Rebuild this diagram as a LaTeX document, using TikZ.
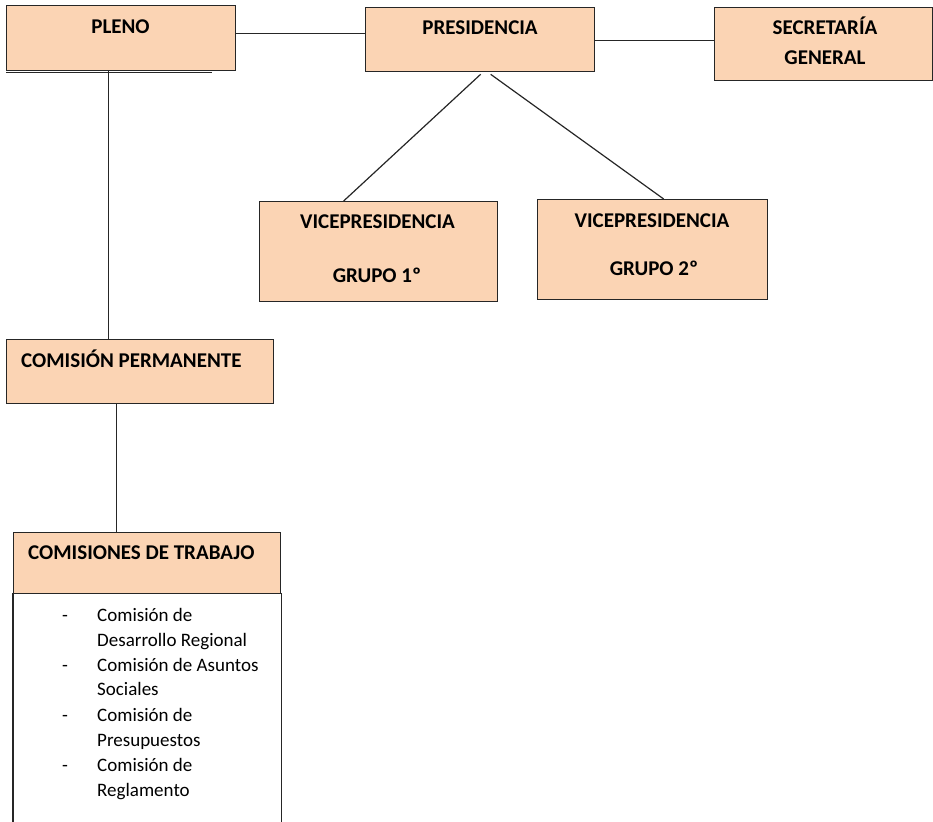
\documentclass[tikz,border=0pt]{standalone}
\usepackage{fontspec}
\setmainfont{Carlito}
\definecolor{peach}{HTML}{FBD4B4}
\tikzset{
  box/.style={draw=black!85, line width=1.3pt, fill=peach, rectangle, inner sep=0pt, anchor=north west},
  head/.style={font=\bfseries\fontsize{21}{27}\selectfont, inner sep=0pt, text height=13.5pt, text depth=0pt},
  listtext/.style={font=\fontsize{19}{25}\selectfont, inner sep=0pt, text height=12.2pt, text depth=0pt},
  conn/.style={draw=black!85, line width=1.2pt}
}
\begin{document}
\begin{tikzpicture}[x=1pt,y=-1pt]
        \useasboundingbox (0,0) rectangle (933,821);

        % Top row
        \node[box, minimum width=229, minimum height=65] (pleno) at (6,5) {};
        \draw[conn] ([yshift=-1.5pt]pleno.south west) -- ++(206,0);
        \node[head] (plenotxt) at (120.5,27) {PLENO};
        \node[box, minimum width=229, minimum height=64] (presidencia) at (365,7) {};
        \node[head] (prestxt) at (480,28) {PRESIDENCIA};
        \node[box, minimum width=218, minimum height=73] (secretaria) at (714,7) {};
        \node[head] (secr1) at (825,28) {SECRETARÍA};
        \node[head] (secr2) at (825,58) {GENERAL};
        \draw[conn] (pleno.east) ++(0,-4.5) coordinate (pp) -- (pp -| presidencia.west);
        \draw[conn] (presidencia.east) ++(0,1) coordinate (ps) -- (ps -| secretaria.west);

        % Vicepresidencias
        \node[box, minimum width=238, minimum height=100] (vice1) at (259,201) {};
        \node[head] (vice1a) at (377.5,222) {VICEPRESIDENCIA};
        \node[head] (vice1b) at (377,276) {GRUPO 1º};
        \node[box, minimum width=230, minimum height=100] (vice2) at (537,199) {};
        \node[head] (vice2a) at (652,221) {VICEPRESIDENCIA};
        \node[head] (vice2b) at (654,269) {GRUPO 2º};
        \draw[conn] ([xshift=0.5pt,yshift=-2pt]presidencia.south) -- ([xshift=-35pt]vice1.north);
        \draw[conn] ([xshift=10.5pt,yshift=-2pt]presidencia.south) -- ([xshift=11pt]vice2.north);

        % Comisiones
        \node[box, minimum width=267, minimum height=64] (permanente) at (6,339) {};
        \node[head, anchor=west] (permtxt) at (21,361) {COMISIÓN PERMANENTE};
        \draw[conn] (pleno.south) ++(-12.5,0) coordinate (pv) -- (pv |- permanente.north);
        \node[box, minimum width=267, minimum height=61] (trabajo) at (13,532) {};
        \node[head, anchor=west] (trabtxt) at (28,553) {COMISIONES DE TRABAJO};
        \draw[conn] (permanente.south) ++(-23.5,0) coordinate (pt) -- (pt |- trabajo.north);

        % List of working commissions
        \node[box, fill=white, draw=none, minimum width=267, minimum height=240] (lista) at (13,593) {};
        \draw[conn] (lista.north west) -- (lista.south west);
        \draw[conn] (lista.north east) -- (lista.south east);
        \foreach \y in {615,665,715,765}
            \node[listtext] (dash\y) at (65,\y) {-};
        \foreach \n/\y/\txt in {1/615/Comisión de, 2/640/Desarrollo Regional, 3/665/Comisión de Asuntos,
                4/689/Sociales, 5/715/Comisión de, 6/740/Presupuestos, 7/765/Comisión de, 8/790/Reglamento}
            \node[listtext, anchor=west] (item\n) at (97,\y) {\txt};
    \end{tikzpicture}
\end{document}
